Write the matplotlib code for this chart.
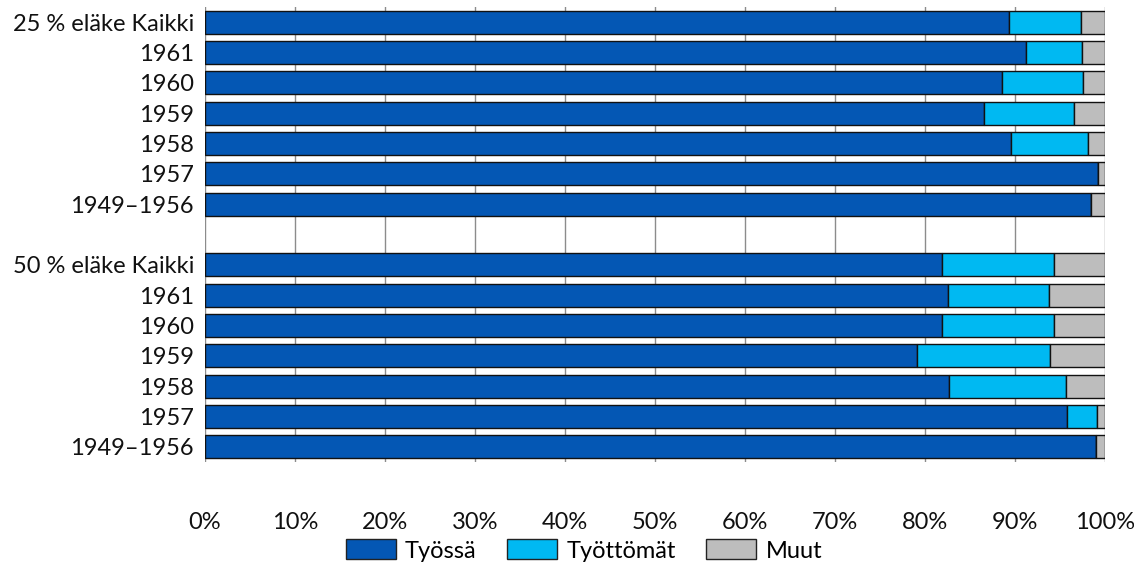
import matplotlib.pyplot as plt
from matplotlib.patches import Patch

# === Data ===
labels = ['25 % eläke Kaikki', '1961', '1960', '1959', '1958', '1957', '1949–1956',
          '',
          '50 % eläke Kaikki', '1961', '1960', '1959', '1958', '1957', '1949–1956']

tyossa = [89.3, 91.2, 88.6, 86.5, 89.5, 99.2, 98.4,
          None,
          81.9, 82.6, 81.9, 79.1, 82.7, 95.8, 99.0]
tyottomat = [8.0, 6.2, 8.9, 10.0, 8.6, 0.0, 0.0,
             None,
             12.4, 11.2, 12.4, 14.8, 13.0, 3.3, 0.0]
muut = [2.7, 2.6, 2.5, 3.5, 1.9, 0.8, 1.6,
        None,
        5.7, 6.2, 5.7, 6.1, 4.3, 0.9, 1.0]

series_names = ['Työssä', 'Työttömät', 'Muut']
colors = ['#0457B4', '#00B9F2', '#BDBDBD']

plt.rcParams['font.family'] = ['Lato', 'DejaVu Sans']

fig = plt.figure(figsize=(11.34, 5.64), dpi=100)
ax = fig.add_axes([205 / 1134, 1 - 462 / 564, 900 / 1134, 455 / 564])

# skip the empty spacer row
rows = [i for i, v in enumerate(tyossa) if v is not None]
a = [tyossa[i] for i in rows]
b = [tyottomat[i] for i in rows]
c = [muut[i] for i in rows]
left2 = [p + q for p, q in zip(a, b)]

h = 0.75
ax.barh(rows, a, height=h, color=colors[0], edgecolor='#111111', linewidth=1, zorder=3)
ax.barh(rows, b, left=a, height=h, color=colors[1], edgecolor='#111111', linewidth=1, zorder=3)
ax.barh(rows, c, left=left2, height=h, color=colors[2], edgecolor='#111111', linewidth=1, zorder=3)

ax.set_xlim(0, 100)
ax.set_ylim(len(labels) - 0.5, -0.5)
ax.set_yticks(range(len(labels)))
ax.set_yticklabels(labels, fontsize=17, color='#111111')
ax.set_xticks(range(0, 101, 10))
ax.set_xticklabels([f'{t}%' for t in range(0, 101, 10)], fontsize=17, color='#111111')
ax.tick_params(axis='x', length=0, pad=36)
ax.tick_params(axis='y', length=0, pad=8)
ax.grid(axis='x', color='#8C8C8C', linewidth=1, zorder=0)
for s in ax.spines.values():
    s.set_visible(False)

handles = [Patch(facecolor=col, edgecolor='#222222', linewidth=1, label=n)
           for col, n in zip(colors, series_names)]
fig.legend(handles=handles, loc='center', bbox_to_anchor=(0.515, 0.024), ncol=3,
           frameon=False, fontsize=17, handlelength=2.1, handleheight=0.93,
           columnspacing=1.3, handletextpad=0.4)

fig.savefig('out.png', dpi=100)
